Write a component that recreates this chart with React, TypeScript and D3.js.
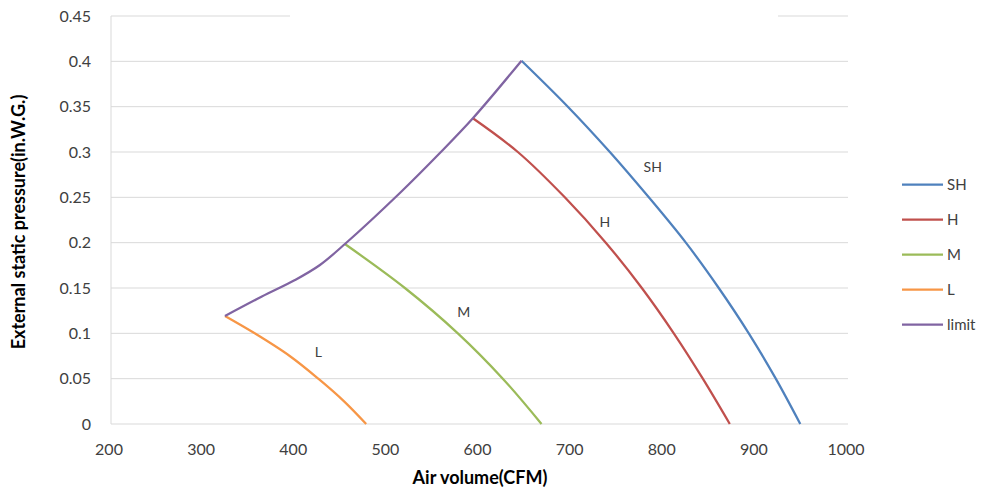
import React from "react";
import * as d3 from "d3";

const xTicks = [200, 300, 400, 500, 600, 700, 800, 900, 1000];
const yTicks = [0, 0.05, 0.1, 0.15, 0.2, 0.25, 0.3, 0.35, 0.4, 0.45];

const shX = [645.6, 695.9, 741.5, 783.8, 824, 859.7, 892.3, 921.6, 948.2];
const shY = [0.4007, 0.35, 0.3, 0.25, 0.2, 0.15, 0.1, 0.05, 0];
const hX = [592.8, 641.6, 692.6, 737.1, 776.2, 810.9, 842.4, 871.7];
const hY = [0.3372, 0.3, 0.25, 0.2, 0.15, 0.1, 0.05, 0];
const mX = [453.9, 519, 576.5, 625.3, 667.3];
const mY = [0.1985, 0.15, 0.1, 0.05, 0];
const lX = [323.7, 356, 394, 425, 453, 477];
const lY = [0.1191, 0.1, 0.075, 0.05, 0.025, 0];
const limitX = [323.7, 363.8, 399.7, 426.8, 453.9, 513.6, 557, 592.8, 645.6];
const limitY = [0.1191, 0.1406, 0.1588, 0.1754, 0.1985, 0.2548, 0.2989, 0.3372, 0.4007];

const seriesNames = ["SH", "H", "M", "L", "limit"];
const seriesColors = ["#4F81BD", "#C0504D", "#9BBB59", "#F79646", "#8064A2"];
const curveLabels = [
  { text: "SH", x: 788, y: 0.2834 },
  { text: "H", x: 736, y: 0.2228 },
  { text: "M", x: 583, y: 0.1235 },
  { text: "L", x: 425, y: 0.0794 },
];

const W = 988;
const H = 493;
const left = 111;
const right = 848;
const top = 16;
const bottom = 424;

export default function App() {
  const x = d3.scaleLinear().domain([200, 1000]).range([left, right]);
  const y = d3.scaleLinear().domain([0, 0.45]).range([bottom, top]);
  const line = d3
    .line<[number, number]>()
    .x((d) => x(d[0]))
    .y((d) => y(d[1]))
    .curve(d3.curveCatmullRom.alpha(0.5));

  const series = [
    [shX, shY],
    [hX, hY],
    [mX, mY],
    [lX, lY],
    [limitX, limitY],
  ].map(([xs, ys]) => xs.map((v, i) => [v, ys[i]] as [number, number]));

  const font = "Lato, 'Open Sans', sans-serif";

  return (
    <svg
      width={W}
      height={H}
      style={{ position: "absolute", left: 0, top: 0, background: "#fff" }}
      fontFamily={font}
    >
      <rect x={0} y={0} width={W} height={H} fill="#fff" />
      {yTicks.map((t) => (
        <line
          key={"g" + t}
          x1={left}
          x2={right}
          y1={y(t)}
          y2={y(t)}
          stroke="#d9d9d9"
          strokeWidth={1}
        />
      ))}
      <line x1={left} x2={left} y1={top} y2={bottom} stroke="#d9d9d9" strokeWidth={1} />
      {/* title area cover */}
      <rect x={290} y={0} width={488} height={20} fill="#fff" />
      {yTicks.map((t) => (
        <text
          key={"yl" + t}
          x={91}
          y={y(t)}
          dy="0.36em"
          textAnchor="end"
          fontSize={16}
          fill="#404040"
        >
          {t === 0 ? "0" : String(+t.toFixed(2))}
        </text>
      ))}
      {xTicks.map((t) => (
        <text
          key={"xl" + t}
          x={x(t) - 2}
          y={455}
          textAnchor="middle"
          fontSize={16}
          fill="#404040"
        >
          {t}
        </text>
      ))}
      {series.map((pts, i) => (
        <path
          key={"s" + i}
          d={line(pts) || ""}
          fill="none"
          stroke={seriesColors[i]}
          strokeWidth={2.25}
          strokeLinejoin="round"
        />
      ))}
      {curveLabels.map((c) => (
        <text
          key={"cl" + c.text}
          x={x(c.x)}
          y={y(c.y)}
          dy="0.36em"
          textAnchor="middle"
          fontSize={14}
          fill="#404040"
        >
          {c.text}
        </text>
      ))}
      {seriesNames.map((n, i) => (
        <g key={"lg" + n} transform={`translate(0, ${184.5 + i * 35})`}>
          <line x1={902} x2={943} y1={0} y2={0} stroke={seriesColors[i]} strokeWidth={2.25} />
          <text x={947} y={0} dy="0.36em" fontSize={15} fill="#404040">
            {n}
          </text>
        </g>
      ))}
      <text
        x={480}
        y={484}
        textAnchor="middle"
        fontSize={18}
        fontWeight="bold"
        fill="#000"
      >
        Air volume(CFM)
      </text>
      <text
        transform={`translate(25, 222) rotate(-90)`}
        textAnchor="middle"
        fontSize={18}
        fontWeight="bold"
        fill="#000"
      >
        External static pressure(in.W.G.)
      </text>
    </svg>
  );
}
